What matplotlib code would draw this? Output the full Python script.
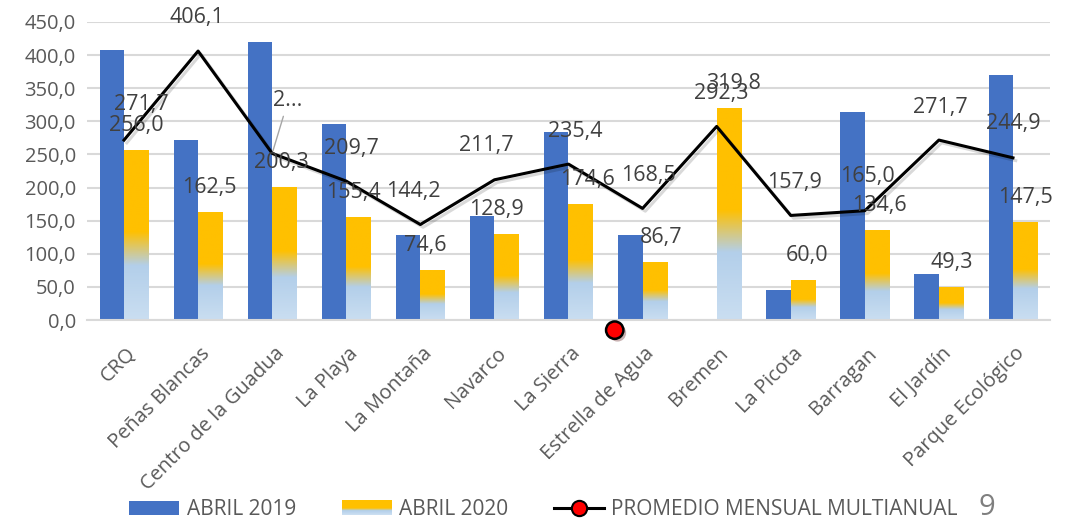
import matplotlib
matplotlib.use('Agg')
import matplotlib.pyplot as plt
import numpy as np
from matplotlib.colors import LinearSegmentedColormap
from matplotlib.legend_handler import HandlerBase
from matplotlib.patches import Rectangle
from matplotlib.lines import Line2D
import matplotlib.patheffects as pe
import matplotlib.transforms as mtransforms

plt.rcParams['font.family'] = ['Open Sans', 'DejaVu Sans']

stations = ['CRQ', 'Peñas Blancas', 'Centro de la Guadua', 'La Playa', 'La Montaña',
            'Navarco', 'La Sierra', 'Estrella de Agua', 'Bremen', 'La Picota',
            'Barragan', 'El Jardín', 'Parque Ecológico']
abril_2019 = [408, 272, 420, 296, 128, 157, 284, 128, 0, 46, 314, 69, 370]
abril_2020 = [256.0, 162.5, 200.3, 155.4, 74.6, 128.9, 174.6, 86.7, 319.8, 60.0, 134.6, 49.3, 147.5]
promedio = [271.7, 406.1, 251.6, 209.7, 144.2, 211.7, 235.4, 168.5, 292.3, 157.9, 165.0, 271.7, 244.9]
y_ticks = [0, 50, 100, 150, 200, 250, 300, 350, 400, 450]

# label offsets in pixels (as placed in the original)
bar_dx = [0, -1, -3, -5, -7, -10, 7, 6, 5, 4, 2, 1, 0]
line_dx = [17, -1, 16, 5, -7, -8, 7, 6, 5, 4, 3, 1, 0]
line_dy = [36, 34, 53, 33, 33, 34, 33, 33, 33, 33, 34, 33, 34]

BLUE = '#4472C4'
TXT = '#404040'
TICK_TXT = '#595959'
GRID = '#D9D9D9'

grad_cmap = LinearSegmentedColormap.from_list(
    'gold_sky', [(0.0, '#CADEF1'), (0.32, '#B3CFEA'), (0.52, '#FFC000'), (1.0, '#FFC000')])
legend_cmap = LinearSegmentedColormap.from_list(
    'gold_sky_leg', [(0.0, '#CADEF1'), (0.3, '#B3CFEA'), (0.5, '#FFC000'), (1.0, '#FFC000')])


def fmt(v):
    return f'{v:.1f}'.replace('.', ',')


class GradientHandler(HandlerBase):
    def create_artists(self, legend, orig_handle, xdescent, ydescent,
                       width, height, fontsize, trans):
        n = 14
        cols = legend_cmap(np.linspace(0, 1, n))
        arts = []
        for k in range(n):
            r = Rectangle((-xdescent, -ydescent + height * k / n), width, height / n + 0.3,
                          facecolor=cols[k], edgecolor='none', transform=trans)
            arts.append(r)
        return arts


fig = plt.figure(figsize=(10.66, 5.2), dpi=100)
ax = fig.add_axes([0.0816, 0.3846, 0.9034, 0.5731])

x = np.arange(len(stations))
w = 0.33

ax.bar(x - w / 2, abril_2019, width=w, color=BLUE, zorder=2)

grad = np.linspace(0, 1, 256).reshape(-1, 1)
for i, v in enumerate(abril_2020):
    ax.imshow(grad, extent=[x[i], x[i] + w, 0, v], aspect='auto', cmap=grad_cmap,
              origin='lower', zorder=2, interpolation='bilinear')

ax.plot(x, promedio, color='black', lw=2.2, zorder=4,
        path_effects=[pe.SimpleLineShadow(offset=(2, -2), alpha=0.15), pe.Normal()])

for i, v in enumerate(abril_2020):
    ax.annotate(fmt(v), (x[i] + w / 2, v), xytext=(bar_dx[i], 25), textcoords='offset pixels',
                ha='center', va='center', fontsize=15.5, color=TXT, zorder=5)

for i, v in enumerate(promedio):
    if i == 2:
        ax.annotate('2...', (x[i], v), xytext=(line_dx[i], line_dy[i]), textcoords='offset pixels',
                    ha='center', va='center', fontsize=15.5, color=TXT, zorder=5,
                    arrowprops=dict(arrowstyle='-', color='#A6A6A6', lw=1, shrinkA=2, shrinkB=2))
    else:
        ax.annotate(fmt(v), (x[i], v), xytext=(line_dx[i], line_dy[i]), textcoords='offset pixels',
                    ha='center', va='center', fontsize=15.5, color=TXT, zorder=5)

ax.set_xlim(-0.5, len(stations) - 0.5)
ax.set_ylim(0, 450)
ax.set_yticks(y_ticks)
ax.set_yticklabels([fmt(t) for t in y_ticks])
ax.set_xticks(x)
ax.set_xticklabels(stations, rotation=45, ha='right', rotation_mode='anchor', va='center')
ax.tick_params(axis='both', length=0, labelsize=14.5, labelcolor=TICK_TXT)
ax.tick_params(axis='x', pad=22)
ax.tick_params(axis='y', pad=8)
offset = mtransforms.ScaledTranslation(0.09, 0, fig.dpi_scale_trans)
for lab in ax.get_xticklabels():
    lab.set_transform(lab.get_transform() + offset)

ax.grid(axis='y', color=GRID, lw=1.5, zorder=0)
ax.set_axisbelow(True)
for s in ['top', 'right', 'left']:
    ax.spines[s].set_visible(False)
ax.spines['bottom'].set_color(GRID)
ax.spines['bottom'].set_linewidth(1.5)

# stray legend marker sitting under the axis in the original
ax.plot([0.548], [-0.034], transform=ax.transAxes, marker='o', ms=12.5, mfc='red', mec='black',
        mew=1.8, clip_on=False, zorder=6,
        path_effects=[pe.SimplePatchShadow(offset=(2, -2), alpha=0.3), pe.Normal()])

h1 = Rectangle((0, 0), 1, 1, facecolor=BLUE)
h2 = Rectangle((0, 0), 1, 1, facecolor='#FFC000')
h3 = Line2D([], [], color='black', lw=2.2, marker='o', ms=11, mfc='red', mec='black', mew=1.5)
leg = fig.legend([h1, h2, h3], ['ABRIL 2019', 'ABRIL 2020', 'PROMEDIO MENSUAL MULTIANUAL'],
                 handler_map={h2: GradientHandler()}, loc='center', bbox_to_anchor=(0.51, 0.02),
                 ncol=3, frameon=False, fontsize=15, handlelength=2.4, handleheight=0.65,
                 handletextpad=0.35, columnspacing=2.2, labelcolor=TICK_TXT)

fig.text(0.926, 0.024, '9', fontsize=21, color='#7F7F7F', ha='center', va='center')

fig.savefig('out.png', dpi=100)
